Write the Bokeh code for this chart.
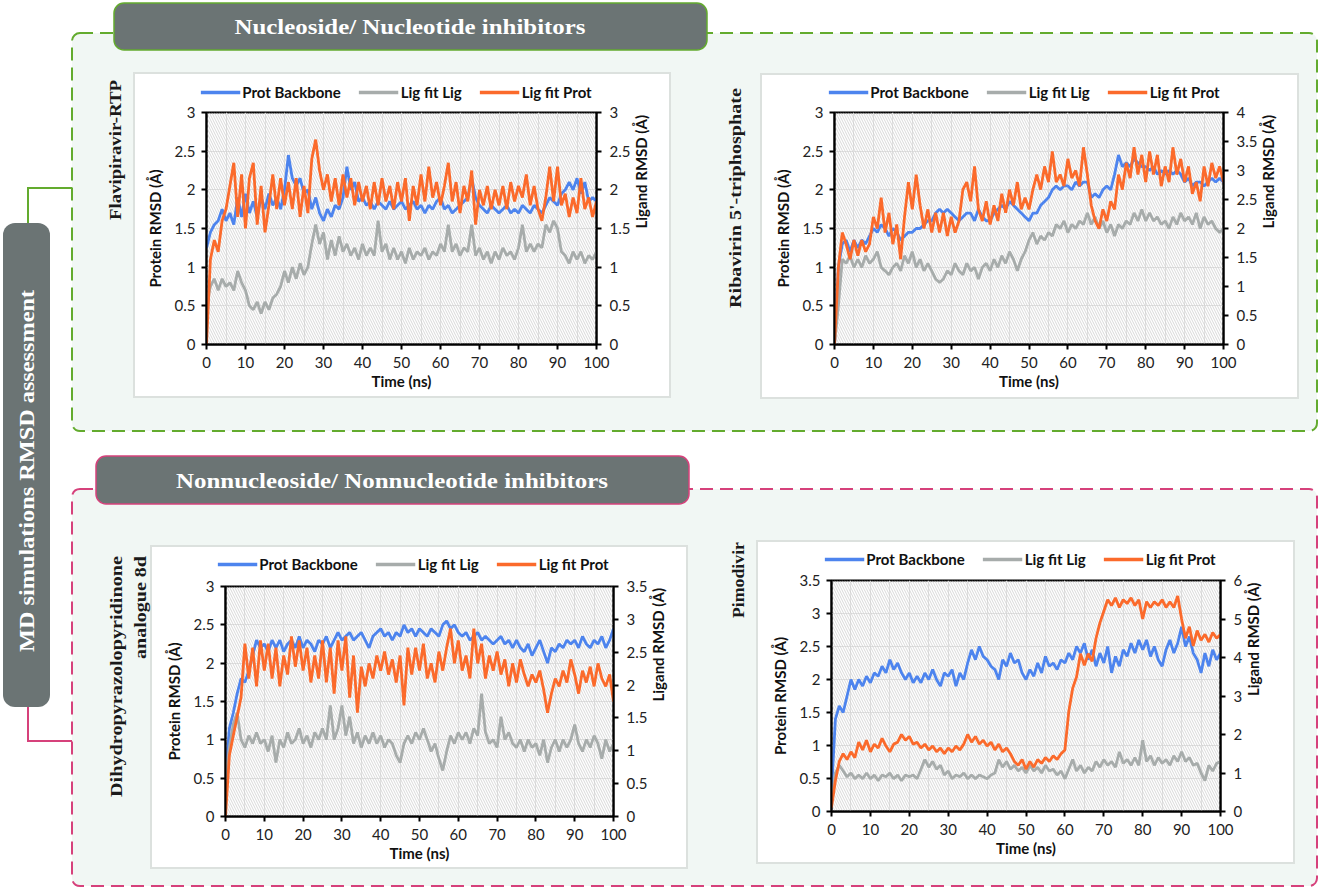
import math
from bokeh.plotting import figure
from bokeh.models import (Range1d, LinearAxis, FixedTicker, Legend, LegendItem,
                          BoxAnnotation, Div)
from bokeh.embed import file_html
from bokeh.resources import INLINE

# ---------------- data ----------------
time_ns = list(range(0, 101))
x_ticks = [0, 10, 20, 30, 40, 50, 60, 70, 80, 90, 100]
x_grid = list(range(0, 101, 5))

series_labels = ["Prot Backbone", "Lig fit Lig", "Lig fit Prot"]
series_colors = ["#4d84ee", "#a7acab", "#fb6a2b"]

panel_titles = ["Flavipiravir-RTP", "Ribavirin 5'-triphosphate",
                "Dihydropyrazolopyridinone analogue 8d", "Pimodivir"]
section_titles = ["Nucleoside/ Nucleotide inhibitors",
                  "Nonnucleoside/ Nonnucleotide inhibitors"]
side_title = "MD simulations RMSD assessment"

# Panel 1 : Flavipiravir-RTP  (left 0-3, right 0-3)
p1_prot = [1.25, 1.45, 1.55, 1.6, 1.75, 1.6, 1.7, 1.55, 1.9, 1.65,
           1.95, 1.7, 1.85, 1.65, 1.9, 1.75, 1.95, 1.8, 1.9, 1.75,
           2.0, 2.45, 2.15, 2.05, 2.15, 1.95, 2.0, 1.75, 1.9, 1.7,
           1.6, 1.75, 1.65, 1.8, 1.75, 1.9, 2.3, 2.0, 2.1, 1.85,
           1.9, 1.8, 1.85, 1.75, 1.85, 1.8, 1.75, 1.85, 1.75, 1.8,
           1.85, 1.75, 1.8, 1.85, 1.75, 1.8, 1.7, 1.8, 1.75, 1.85,
           1.9, 1.75, 1.8, 1.7, 1.75, 1.8, 1.85, 1.9, 2.15, 1.9,
           1.8, 1.75, 1.7, 1.8, 1.75, 1.7, 1.75, 1.8, 1.7, 1.75,
           1.7, 1.8, 1.75, 1.7, 1.8, 1.75, 1.7, 1.8, 1.9, 1.85,
           1.8, 1.95, 2.0, 2.1, 2.0, 2.15, 1.95, 2.1, 1.85, 1.9,
           1.85]
p1_liglig = [0.5, 0.75, 0.85, 0.7, 0.85, 0.75, 0.8, 0.7, 0.95, 0.8,
             0.7, 0.5, 0.45, 0.55, 0.4, 0.55, 0.45, 0.6, 0.65, 0.75,
             0.95, 0.8, 1.0, 0.85, 1.05, 0.9, 1.0, 1.3, 1.55, 1.3,
             1.45, 1.1, 1.35, 1.15, 1.4, 1.2, 1.3, 1.15, 1.25, 1.1,
             1.3, 1.15, 1.25, 1.15, 1.6, 1.2, 1.3, 1.1, 1.25, 1.1,
             1.2, 1.05, 1.25, 1.1, 1.2, 1.15, 1.25, 1.1, 1.2, 1.15,
             1.3, 1.2, 1.55, 1.2, 1.3, 1.15, 1.25, 1.2, 1.55, 1.15,
             1.25, 1.1, 1.2, 1.05, 1.2, 1.1, 1.25, 1.15, 1.2, 1.1,
             1.25, 1.55, 1.2, 1.3, 1.2, 1.3, 1.25, 1.55, 1.45, 1.6,
             1.5, 1.2, 1.15, 1.05, 1.2, 1.1, 1.2, 1.05, 1.15, 1.1,
             1.2]
p1_ligprot = [0.0, 1.1, 1.35, 1.2, 1.6, 1.75, 2.05, 2.35, 1.65, 2.2,
              1.5, 2.15, 2.35, 1.55, 2.05, 1.45, 1.8, 2.2, 1.75, 2.15,
              1.8, 2.1, 1.75, 2.15, 1.65, 2.05, 1.7, 2.4, 2.65, 2.25,
              2.0, 2.2, 1.85, 2.15, 1.8, 2.2, 1.9, 2.15, 1.8, 2.1,
              1.85, 2.05, 1.75, 2.1, 1.8, 2.15, 1.85, 2.05, 1.75, 2.1,
              1.85, 2.15, 1.6, 2.05, 1.8, 2.2, 1.85, 2.3, 1.9, 2.1,
              1.8, 2.05, 2.35, 1.85, 2.1, 1.7, 2.05, 1.85, 2.25, 1.55,
              2.0, 1.8, 2.05, 1.75, 2.0, 1.8, 2.05, 1.75, 2.1, 1.85,
              2.05, 1.9, 2.2, 1.8, 2.05, 1.75, 1.6, 1.9, 2.3, 1.85,
              2.3, 1.8, 1.95, 1.65, 1.9, 1.7, 2.15, 1.75, 1.9, 1.65,
              1.85]

# Panel 2 : Ribavirin 5'-triphosphate  (left 0-3, right 0-4)
p2_prot = [0.0, 1.0, 1.3, 1.35, 1.2, 1.35, 1.25, 1.35, 1.3, 1.4,
           1.5, 1.45, 1.55, 1.5, 1.4, 1.5, 1.45, 1.35, 1.4, 1.45,
           1.45, 1.5, 1.5, 1.55, 1.6, 1.6, 1.7, 1.75, 1.7, 1.75,
           1.7, 1.65, 1.6, 1.65, 1.7, 1.7, 1.6, 1.75, 1.65, 1.6,
           1.6, 1.7, 1.75, 1.8, 1.75, 1.85, 1.8, 1.75, 1.7, 1.65,
           1.6, 1.7, 1.7, 1.8, 1.85, 1.9, 2.0, 2.05, 2.0, 2.05,
           2.05, 2.0, 2.1, 2.05, 2.1, 2.1, 1.9, 1.95, 1.9, 2.0,
           2.05, 2.0, 2.2, 2.45, 2.3, 2.35, 2.3, 2.4, 2.35, 2.3,
           2.3, 2.25, 2.3, 2.2, 2.25, 2.2, 2.25, 2.2, 2.25, 2.2,
           2.1, 2.15, 2.05, 2.1, 2.1, 2.05, 2.1, 2.15, 2.1, 2.15,
           2.1]
p2_liglig = [0.0, 0.67, 1.47, 1.4, 1.53, 1.33, 1.47, 1.33, 1.53, 1.4,
             1.47, 1.6, 1.33, 1.27, 1.2, 1.33, 1.4, 1.27, 1.53, 1.4,
             1.6, 1.33, 1.47, 1.27, 1.4, 1.27, 1.13, 1.07, 1.13, 1.27,
             1.2, 1.4, 1.27, 1.2, 1.4, 1.27, 1.33, 1.13, 1.33, 1.4,
             1.27, 1.47, 1.33, 1.53, 1.4, 1.6, 1.47, 1.27, 1.47, 1.6,
             1.8, 1.93, 1.73, 1.87, 1.8, 1.93, 1.87, 2.07, 2.0, 2.13,
             1.93, 2.07, 2.0, 2.13, 2.07, 2.27, 2.07, 2.2, 2.0, 2.13,
             1.93, 2.07, 1.87, 2.07, 2.0, 2.13, 2.07, 2.27, 2.13, 2.33,
             2.13, 2.27, 2.13, 2.2, 2.07, 2.13, 2.0, 2.2, 2.07, 2.27,
             2.13, 2.2, 2.07, 2.27, 2.0, 2.2, 2.07, 2.13, 2.0, 1.93,
             2.0]
p2_ligprot = [0.0, 1.33, 1.93, 1.73, 1.47, 1.8, 1.53, 1.8, 1.6, 1.73,
              2.2, 2.0, 2.53, 1.93, 2.27, 1.73, 2.07, 1.47, 2.2, 2.8,
              2.33, 2.93, 2.4, 2.0, 2.33, 1.93, 2.27, 1.93, 2.27, 1.87,
              2.2, 1.93, 2.13, 2.67, 2.8, 2.47, 3.07, 2.33, 2.13, 2.47,
              2.07, 2.4, 2.13, 2.6, 2.27, 2.67, 2.4, 2.8, 2.33, 2.53,
              2.33, 2.67, 2.93, 2.67, 3.07, 2.8, 3.33, 2.8, 2.93, 2.73,
              3.2, 2.87, 3.0, 2.73, 3.4, 2.93, 2.4, 2.13, 2.0, 2.33,
              2.13, 2.47, 2.33, 2.93, 2.67, 3.13, 2.87, 3.4, 2.93, 3.27,
              2.8, 3.33, 2.93, 3.27, 2.73, 3.07, 2.8, 3.4, 2.93, 3.2,
              2.8, 3.07, 2.6, 2.8, 2.47, 3.07, 2.73, 3.13, 2.87, 3.07,
              2.8]

# Panel 3 : Dihydropyrazolopyridinone analogue 8d  (left 0-3, right 0-3.5)
p3_prot = [0.5, 1.15, 1.35, 1.6, 1.8, 1.75, 1.9, 2.1, 2.3, 2.2,
           2.25, 2.15, 2.3, 2.2, 2.3, 2.15, 2.25, 2.3, 2.2, 2.35,
           2.2, 2.3, 2.25, 2.15, 2.3, 2.25, 2.35, 2.2, 2.3, 2.4,
           2.3, 2.35, 2.4, 2.3, 2.35, 2.4, 2.3, 2.2, 2.35, 2.4,
           2.45, 2.35, 2.4, 2.3, 2.4, 2.35, 2.5, 2.4, 2.45, 2.35,
           2.45, 2.4, 2.35, 2.45, 2.4, 2.35, 2.5, 2.55, 2.45, 2.5,
           2.4, 2.35, 2.4, 2.3, 2.35, 2.4, 2.3, 2.35, 2.3, 2.25,
           2.3, 2.35, 2.25, 2.3, 2.2, 2.3, 2.2, 2.15, 2.25, 2.1,
           2.2, 2.3, 2.15, 2.0, 2.2, 2.15, 2.25, 2.2, 2.3, 2.25,
           2.3, 2.2, 2.35, 2.25, 2.2, 2.3, 2.25, 2.35, 2.2, 2.3,
           2.45]
p3_liglig = [0.58, 1.05, 1.4, 1.58, 1.17, 1.05, 1.23, 1.11, 1.28, 1.11,
             1.17, 0.99, 1.23, 0.82, 1.17, 1.05, 1.28, 1.11, 1.17, 1.34,
             1.11, 1.23, 1.05, 1.28, 1.17, 1.34, 1.17, 1.69, 1.17, 1.34,
             1.69, 1.23, 1.52, 1.11, 1.28, 1.05, 1.23, 1.11, 1.28, 1.11,
             1.23, 1.05, 1.17, 1.11, 0.93, 0.82, 1.11, 1.23, 1.11, 1.28,
             1.17, 1.34, 1.17, 0.99, 1.11, 0.88, 0.7, 0.99, 1.23, 1.11,
             1.28, 1.17, 1.28, 1.11, 1.34, 1.23, 1.87, 1.28, 1.11, 1.17,
             1.05, 1.52, 1.17, 1.28, 1.11, 1.05, 1.17, 0.99, 1.17, 1.05,
             1.11, 0.93, 1.17, 0.82, 1.05, 1.17, 0.99, 1.17, 1.05, 1.17,
             1.4, 1.11, 0.99, 1.17, 1.05, 1.23, 1.11, 0.88, 1.17, 0.99,
             1.11]
p3_ligprot = [0.0, 0.93, 1.23, 1.52, 1.81, 2.63, 2.1, 2.57, 1.98, 2.68,
              2.22, 2.63, 2.1, 2.57, 1.98, 2.45, 2.16, 2.74, 2.28, 2.68,
              2.22, 2.57, 2.04, 2.45, 2.1, 2.68, 2.04, 2.57, 1.87, 2.68,
              2.22, 2.74, 1.81, 2.45, 1.58, 2.28, 1.98, 2.33, 2.1, 2.45,
              2.22, 2.51, 2.16, 2.39, 2.04, 2.45, 1.69, 2.57, 2.16, 2.57,
              2.22, 2.63, 2.1, 2.33, 2.04, 2.51, 2.22, 2.57, 2.86, 2.33,
              2.68, 2.22, 2.45, 2.1, 2.86, 2.33, 2.63, 2.1, 2.45, 2.22,
              2.51, 2.16, 2.39, 1.98, 2.33, 2.04, 2.39, 2.16, 1.98, 2.16,
              2.04, 2.22, 1.93, 1.58, 1.87, 2.1, 1.98, 2.22, 2.04, 2.39,
              2.16, 1.87, 2.22, 2.04, 2.28, 1.98, 2.33, 2.1, 1.98, 2.16,
              1.75]

# Panel 4 : Pimodivir  (left 0-3.5, right 0-6)
p4_prot = [0.3, 1.4, 1.6, 1.5, 1.75, 2.0, 1.85, 2.0, 1.9, 2.05,
           1.95, 2.1, 2.05, 2.2, 2.1, 2.3, 2.15, 2.25, 2.1, 2.0,
           2.1, 1.95, 2.05, 1.95, 2.1, 2.0, 2.15, 2.0, 1.9, 2.1,
           2.05, 2.15, 1.9, 2.1, 2.0, 2.25, 2.45, 2.3, 2.5, 2.35,
           2.3, 2.2, 2.15, 2.0, 2.3, 2.2, 2.4, 2.25, 2.3, 2.1,
           2.0, 2.15, 2.05, 2.25, 2.1, 2.35, 2.2, 2.25, 2.15, 2.3,
           2.25, 2.4, 2.3, 2.5, 2.4, 2.55, 2.3, 2.45, 2.2, 2.4,
           2.25, 2.5, 2.1, 2.35, 2.2, 2.45, 2.35, 2.55, 2.4, 2.6,
           2.45, 2.6, 2.35, 2.5, 2.3, 2.2, 2.45, 2.6, 2.4, 2.55,
           2.8, 2.5, 2.65, 2.4, 2.3, 2.1, 2.4, 2.2, 2.45, 2.3,
           2.4]
p4_liglig = [0.2, 1.0, 1.2, 1.05, 0.9, 1.0, 0.85, 0.95, 0.85, 1.0,
             0.85, 0.95, 0.8, 0.95, 0.9, 1.0, 0.85, 0.95, 0.8, 0.95,
             0.9, 0.95, 0.85, 1.1, 1.35, 1.15, 1.3, 1.1, 1.2, 0.95,
             1.05, 0.85, 0.95, 0.9, 1.0, 0.85, 0.95, 0.85, 0.95, 0.9,
             0.85, 0.95, 1.0, 1.35, 1.15, 1.3, 1.1, 1.2, 1.05, 1.15,
             1.0, 1.2, 1.05, 1.15, 1.0, 1.2, 1.05, 1.1, 0.95, 1.05,
             0.85, 1.1, 1.35, 1.05, 1.2, 1.0, 1.15, 1.05, 1.3, 1.15,
             1.35, 1.2, 1.3, 1.15, 1.55, 1.25, 1.35, 1.2, 1.4, 1.2,
             1.85, 1.3, 1.45, 1.2, 1.4, 1.25, 1.35, 1.2, 1.45, 1.3,
             1.55, 1.3, 1.4, 1.2, 1.25, 1.0, 0.8, 1.2, 1.05, 1.25,
             1.3]
p4_ligprot = [0.1, 0.8, 1.3, 1.5, 1.35, 1.55, 1.4, 1.8, 1.6, 1.85,
              1.55, 1.75, 1.65, 1.9, 1.7, 1.55, 1.75, 1.8, 2.0, 1.85,
              1.95, 1.75, 1.8, 1.65, 1.75, 1.6, 1.7, 1.55, 1.65, 1.5,
              1.65, 1.55, 1.7, 1.6, 1.75, 2.0, 1.8, 1.95, 1.75, 1.85,
              1.7, 1.8, 1.6, 1.75, 1.55, 1.65, 1.5, 1.3, 1.2, 1.35,
              1.1, 1.3, 1.15, 1.35, 1.25, 1.4, 1.3, 1.45, 1.35, 1.5,
              1.6, 2.6, 3.2, 3.5, 4.1, 3.8, 4.1, 3.9, 4.5, 4.9,
              5.2, 5.5, 5.35, 5.55, 5.3, 5.5, 5.4, 5.55, 5.35, 5.5,
              5.0, 5.45, 5.3, 5.45, 5.35, 5.5, 5.3, 5.45, 5.3, 5.6,
              5.0, 4.5, 4.8, 4.3, 4.7, 4.45, 4.6, 4.4, 4.65, 4.5,
              4.6]

p1_left_ticks = [0, 0.5, 1, 1.5, 2, 2.5, 3]
p1_right_ticks = [0, 0.5, 1, 1.5, 2, 2.5, 3]
p2_left_ticks = [0, 0.5, 1, 1.5, 2, 2.5, 3]
p2_right_ticks = [0, 0.5, 1, 1.5, 2, 2.5, 3, 3.5, 4]
p3_left_ticks = [0, 0.5, 1, 1.5, 2, 2.5, 3]
p3_right_ticks = [0, 0.5, 1, 1.5, 2, 2.5, 3, 3.5]
p4_left_ticks = [0, 0.5, 1, 1.5, 2, 2.5, 3, 3.5]
p4_right_ticks = [0, 1, 2, 3, 4, 5, 6]

FONT = "Lato"
LW = 2.8


def make_panel(prot, liglig, ligprot, lticks, rticks, box, frame):
    bx0, by0, bx1, by1 = box
    fx0, fy0, fx1, fy1 = frame
    p = figure(width=bx1 - bx0 - 4, height=by1 - by0 - 4, title=None,
               output_backend="svg", toolbar_location=None,
               x_range=Range1d(0, 100), y_range=Range1d(0, lticks[-1]),
               min_border_left=fx0 - bx0 - 2, min_border_right=bx1 - fx1 - 2,
               min_border_top=fy0 - by0 - 2, min_border_bottom=by1 - fy1 - 2,
               background_fill_color="white", border_fill_color="white",
               outline_line_color="black", outline_line_width=2)
    p.extra_y_ranges = {"lig": Range1d(0, rticks[-1])}

    # hatched plot area
    p.add_layout(BoxAnnotation(fill_color=None, line_color=None,
                               hatch_pattern="\\", hatch_color="#c9c9c9",
                               hatch_scale=5, hatch_weight=0.7,
                               level="underlay"))
    p.xgrid[0].ticker = FixedTicker(ticks=x_grid)
    p.xgrid[0].grid_line_color = "#e2e2e2"
    p.ygrid[0].ticker = FixedTicker(ticks=lticks)
    p.ygrid[0].grid_line_color = "#e2e2e2"

    p.line(time_ns, prot, color=series_colors[0], line_width=LW)
    p.line(time_ns, liglig, color=series_colors[1], line_width=LW,
           y_range_name="lig")
    p.line(time_ns, ligprot, color=series_colors[2], line_width=LW,
           y_range_name="lig")

    right = LinearAxis(y_range_name="lig", axis_label="Ligand RMSD (Å)")
    p.add_layout(right, "right")

    xa = p.xaxis[0]
    ya = p.yaxis[0]
    xa.axis_label = "Time (ns)"
    ya.axis_label = "Protein RMSD (Å)"
    xa.ticker = FixedTicker(ticks=x_ticks)
    ya.ticker = FixedTicker(ticks=lticks)
    right.ticker = FixedTicker(ticks=rticks)
    for ax in (xa, ya, right):
        ax.axis_line_color = "black"
        ax.axis_line_width = 2
        ax.major_tick_line_color = "black"
        ax.major_tick_line_width = 2
        ax.major_tick_in = 0
        ax.major_tick_out = 5
        ax.minor_tick_in = 0
        ax.minor_tick_out = 0
        ax.major_label_text_font = FONT
        ax.major_label_text_font_size = "15px"
        ax.major_label_text_color = "#222222"
        ax.axis_label_text_font = FONT
        ax.axis_label_text_font_style = "bold"
        ax.axis_label_text_font_size = "15px"
        ax.axis_label_text_color = "#111111"
    xa.major_label_standoff = 7
    xa.axis_label_standoff = 1
    ya.major_label_standoff = 6
    ya.axis_label_standoff = 8
    right.major_label_standoff = 8
    right.axis_label_standoff = 8
    right.axis_label_orientation = math.pi / 2

    p.styles = {"position": "absolute", "left": f"{bx0 + 2}px",
                "top": f"{by0 + 2}px"}
    return p


def make_legend(cx, cy, series):
    # legend strip: the panel's own series drawn outside this strip's view,
    # so only the legend entries show
    w, h = 470, 26
    lf = figure(width=w, height=h, title=None, output_backend="svg",
                toolbar_location=None, x_axis_type=None, y_axis_type=None,
                x_range=Range1d(1000, 1001), y_range=Range1d(0, 1),
                min_border=0, outline_line_color=None,
                background_fill_alpha=0, border_fill_alpha=0)
    rs = [lf.line(time_ns, s, color=c, line_width=3.5)
          for s, c in zip(series, series_colors)]
    lf.add_layout(Legend(items=[LegendItem(label=l, renderers=[r])
                                for l, r in zip(series_labels, rs)],
                         orientation="horizontal", location="center",
                         label_text_font=FONT, label_text_font_style="bold",
                         label_text_font_size="15px", label_text_color="#111111",
                         glyph_width=40, glyph_height=14, label_standoff=2,
                         spacing=18, padding=2, margin=0,
                         border_line_color=None, background_fill_alpha=0))
    lf.styles = {"position": "absolute", "left": f"{cx - w // 2}px",
                 "top": f"{cy - h // 2}px"}
    return lf


boxes = [(134, 73, 670, 397), (761, 74, 1298, 398),
         (151, 546, 687, 868), (757, 541, 1294, 863)]
frames = [(206, 112, 596, 344), (834, 112, 1223, 344),
          (225, 586, 613, 816), (831, 580, 1220, 811)]
legend_centers = [(396, 92), (1024, 92), (413, 564), (1020, 559)]

panel_series = [(p1_prot, p1_liglig, p1_ligprot), (p2_prot, p2_liglig, p2_ligprot),
                (p3_prot, p3_liglig, p3_ligprot), (p4_prot, p4_liglig, p4_ligprot)]
panel_ticks = [(p1_left_ticks, p1_right_ticks), (p2_left_ticks, p2_right_ticks),
               (p3_left_ticks, p3_right_ticks), (p4_left_ticks, p4_right_ticks)]

panels = [make_panel(*s, *t, b, f) for s, t, b, f in
          zip(panel_series, panel_ticks, boxes, frames)]
legends = [make_legend(cx, cy, s) for (cx, cy), s in zip(legend_centers, panel_series)]

GREEN = "#63ab2e"
PINK = "#d6417b"
HEAD = "#6b7474"
SERIF = "'Liberation Serif', 'DejaVu Serif', serif"

box_rects = "".join(
    f'<rect x="{b[0]}" y="{b[1]}" width="{b[2]-b[0]}" height="{b[3]-b[1]}" '
    f'fill="white" stroke="#dce1de" stroke-width="2"/>' for b in boxes)


def stext(x, y, s, size, length, anchor="middle", color="#1a1a1a", rot=True):
    tr = f'transform="translate({x},{y}) rotate(-90)"' if rot else f'x="{x}" y="{y}"'
    return (f'<text {tr} text-anchor="{anchor}" dominant-baseline="central" '
            f'style="font-family: {SERIF}; font-weight: bold; font-size: {size}px; fill: {color};" '
            f'textLength="{length}" lengthAdjust="spacingAndGlyphs">{s}</text>')


t3a, t3b = "Dihydropyrazolopyridinone", "analogue 8d"
svg = (
    '<svg xmlns="http://www.w3.org/2000/svg" width="1323" height="890" style="display:block">'
    f'<rect x="72" y="33" width="1245" height="398" rx="8" fill="#f1f7f4" stroke="{GREEN}" stroke-width="2" stroke-dasharray="13 7"/>'
    f'<rect x="72" y="489" width="1245" height="397" rx="8" fill="#f1f7f4" stroke="{PINK}" stroke-width="2" stroke-dasharray="13 7"/>'
    f'<polyline points="28,223 28,188 72,188" fill="none" stroke="{GREEN}" stroke-width="2"/>'
    f'<polyline points="28,707 28,741 72,741" fill="none" stroke="{PINK}" stroke-width="2"/>'
    f'<rect x="3" y="223" width="47" height="484" rx="12" fill="{HEAD}"/>'
    + stext(27, 471, side_title, 20, 362, color="white") +
    f'<rect x="114" y="3" width="593" height="47" rx="10" fill="{HEAD}" stroke="{GREEN}" stroke-width="1.5"/>'
    + stext(410, 27, section_titles[0], 20, 351, color="white", rot=False) +
    f'<rect x="96" y="456" width="593" height="48" rx="10" fill="{HEAD}" stroke="{PINK}" stroke-width="1.5"/>'
    + stext(392, 481, section_titles[1], 20, 432, color="white", rot=False)
    + box_rects
    + stext(115, 150, panel_titles[0], 17, 140)
    + stext(735, 198, panel_titles[1], 17, 220)
    + stext(116, 556, t3a, 17, 241, anchor="end")
    + stext(140, 556, t3b, 17, 103, anchor="end")
    + stext(738, 580, panel_titles[3], 17, 76)
    + '</svg>'
)

bg = Div(text=svg, width=1323, height=890, margin=0,
         styles={"position": "absolute", "left": "0px", "top": "0px"})

open("out.html", "w").write(file_html([bg] + panels + legends, INLINE))
